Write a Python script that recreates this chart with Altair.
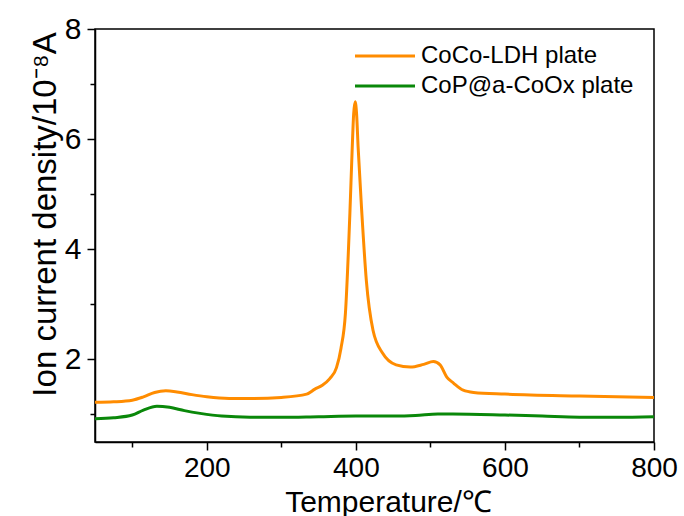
import altair as alt
import pandas as pd

series_names = ["CoCo-LDH plate", "CoP@a-CoOx plate"]
colors = ["#FF8C00", "#0A880A"]

orange_t = [50, 75, 100, 115, 130, 145, 160, 180, 200, 230, 260, 300, 334, 345, 355, 365, 374, 380, 386, 392, 395, 397, 399, 401, 403, 408, 414, 423, 436, 454, 473, 491, 504, 513, 522, 531, 544, 558, 600, 700, 800]
orange_v = [1.22, 1.23, 1.26, 1.32, 1.40, 1.43, 1.41, 1.36, 1.32, 1.29, 1.29, 1.31, 1.37, 1.46, 1.53, 1.65, 1.85, 2.2, 2.84, 4.66, 5.80, 6.45, 6.68, 6.45, 5.86, 4.66, 3.44, 2.53, 2.11, 1.90, 1.86, 1.91, 1.96, 1.90, 1.68, 1.57, 1.44, 1.40, 1.37, 1.335, 1.31]

green_t = [50, 75, 100, 115, 133, 150, 170, 191, 220, 258, 300, 350, 400, 450, 480, 510, 530, 600, 650, 700, 750, 800]
green_v = [0.92, 0.94, 0.99, 1.08, 1.15, 1.13, 1.07, 1.02, 0.97, 0.95, 0.95, 0.96, 0.97, 0.97, 0.98, 1.01, 1.01, 0.99, 0.97, 0.95, 0.95, 0.96]

x_ticks = [100, 200, 300, 400, 500, 600, 700, 800]
y_ticks = [1, 2, 3, 4, 5, 6, 7, 8]

df = pd.concat([
    pd.DataFrame({"T": orange_t, "v": orange_v, "s": series_names[0]}),
    pd.DataFrame({"T": green_t, "v": green_v, "s": series_names[1]}),
])

FONT = "Liberation Sans"

chart = alt.Chart(df).mark_line(strokeWidth=3, interpolate="monotone").encode(
    x=alt.X("T:Q", scale=alt.Scale(domain=[50, 800], nice=False, zero=False),
            axis=alt.Axis(values=x_ticks, title="Temperature/℃",
                          labelExpr="datum.value % 200 === 0 ? datum.label : ''",
                          tickSize={"condition": {"test": "datum.value % 200 === 0", "value": 8}, "value": 5},
                          labelFlush=False, labelOverlap=False, labelPadding=4,
                          labelFontSize=28,
                          titleX=293, titleY=69, titleBaseline="alphabetic", titleAlign="center",
                          titleFontSize=30, format="d")),
    y=alt.Y("v:Q", scale=alt.Scale(domain=[0.5, 8], nice=False, zero=False),
            axis=alt.Axis(values=y_ticks, title="Ion current density/10⁻⁸A",
                          labelExpr="datum.value % 2 === 0 ? datum.label : ''",
                          tickSize={"condition": {"test": "datum.value % 2 === 0", "value": 8}, "value": 5},
                          labelOverlap=False, labelPadding=6, labelFontSize=30,
                          titleX=-50, titleY=185, titleBaseline="middle", titleAngle=-90,
                          titleFontSize=33)),
    color=alt.Color("s:N", scale=alt.Scale(domain=series_names, range=colors),
                    legend=alt.Legend(title=None, orient="none", legendX=278, legendY=15,
                                      symbolType="M-3,0H3", symbolSize=400, symbolStrokeWidth=3,
                                      labelFontSize=24, labelFont=FONT, labelOffset=24,
                                      labelLimit=400, rowPadding=6, padding=0, labelColor="black")),
).properties(
    width=559, height=413,
    autosize=alt.AutoSizeParams(type="none"),
    padding={"left": 95, "top": 29, "right": 30, "bottom": 74},
).configure_view(
    stroke="black", strokeWidth=1.5
).configure_axis(
    grid=False, domainColor="black", domainWidth=1.5, tickColor="black", tickWidth=1.5,
    labelFont=FONT, titleFont=FONT,
    labelColor="black", titleColor="black", titleFontWeight="normal"
)

chart.save("out.html", embed_options={"renderer": "svg", "actions": False})
